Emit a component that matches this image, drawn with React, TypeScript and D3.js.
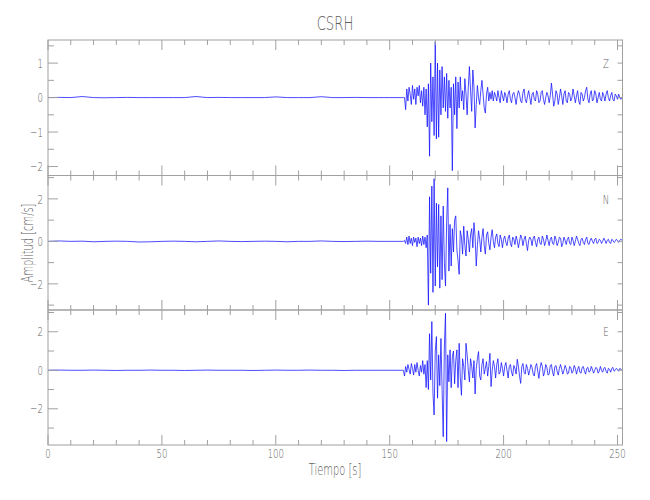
import React from "react";
import * as d3 from "d3";

const title = "CSRH";
const xLabel = "Tiempo [s]";
const yLabel = "Amplitud [cm/s]";
const components = ["Z", "N", "E"];
const xTickLabels = [0, 50, 100, 150, 200, 250];
const zTickLabels = [-2, -1, 0, 1];
const nTickLabels = [-2, 0, 2];
const eTickLabels = [-2, 0, 2];

// sampling of the arrays
const PRE_START = 0;
const PRE_DT = 5;
const MAIN_START = 155;
const MAIN_DT = 0.5;

// pre-event noise (0..150 s, every 5 s)
const zPre = [0, 0.005, 0, 0.03, 0, -0.005, 0, 0.005, 0, 0, 0, 0, 0, 0.03, 0, 0.005, 0, 0, 0, 0, 0.02, 0, 0, 0, 0.025, 0, 0, 0.005, 0, 0, 0];
const nPre = [0, 0.02, 0, 0.01, -0.02, 0, 0.01, 0, -0.03, -0.02, 0, 0.01, 0, -0.02, 0, 0.02, 0, -0.01, 0, 0.01, 0, -0.02, 0, 0, 0.02, 0, -0.01, 0, 0.01, 0, 0];
const ePre = [0, 0.01, 0, 0, 0.01, 0, -0.01, 0, 0, 0.01, 0, 0, -0.01, 0, 0.01, 0, 0, 0, -0.01, 0, 0.01, 0, 0, 0.01, 0, 0, -0.01, 0, 0, 0, 0];

// main record (155..252 s, every 0.5 s)
const zMain = [
  0, 0, 0, 0, -0.35, 0.25, -0.1, 0.3, 0.1, -0.2,
  0.35, -0.05, 0.25, -0.2, 0.3, 0.05, 0.35, -0.15, 0.2, -0.25,
  0.3, -0.5, 0.25, -0.85, 0.4, -1.7, 1.0, -0.7, 0.6, -1.1,
  1.62, -1.2, 1.0, -1.15, 0.8, -0.5, 0.9, -0.3, 0.6, -0.4,
  0.7, -0.6, 0.5, -0.3, 0.3, -2.12, 0.4, -0.5, 0.6, -0.9,
  0.45, -0.3, 0.6, -0.1, 0.2, -0.35, 0.55, 0.1, -0.5, 0.3,
  0.9, 0.2, -0.4, 0.8, 0.3, -0.88, -0.2, 0.35, 0.0, -0.2,
  0.2, 0.5, 0.1, -0.3, -0.45, 0.1, 0.3, -0.1, 0.15, -0.05,
  0.2, -0.1, 0.15, 0.05, -0.1, 0.2, 0.0, -0.15, 0.2, 0.05,
  -0.1, 0.15, 0.05, -0.15, 0.1, 0.2, -0.05, -0.15, 0.1, 0.15,
  0.0, -0.2, 0.05, 0.2, 0.1, -0.1, -0.15, 0.15, 0.25, -0.05,
  -0.15, 0.05, 0.2, 0.0, -0.2, 0.1, 0.15, -0.05, -0.1, 0.2,
  0.1, -0.15, -0.1, 0.15, 0.2, -0.05, -0.2, 0.0, 0.15, 0.05,
  -0.15, 0.05, 0.42, 0.1, -0.25, -0.1, 0.2, 0.1, -0.2, 0.0,
  0.25, 0.05, -0.2, 0.1, 0.2, -0.1, -0.15, 0.15, 0.1, -0.1,
  0.0, 0.25, 0.05, -0.15, 0.05, 0.2, -0.1, -0.2, 0.15, 0.1,
  -0.1, 0.0, 0.2, 0.3, -0.05, -0.15, 0.1, 0.2, -0.1, -0.05,
  0.2, 0.1, -0.15, 0.0, 0.15, -0.05, -0.1, 0.15, 0.05, -0.1,
  0.1, 0.2, 0.0, -0.1, 0.05, 0.15, -0.05, -0.1, 0.1, 0.05,
  -0.05, 0.1, 0.0, -0.05, 0.02,
];
const nMain = [
  0, 0, 0, 0.05, -0.1, 0.2, -0.15, 0.25, -0.1, 0.15,
  -0.2, 0.2, -0.05, 0.15, -0.25, 0.2, -0.1, 0.15, -0.2, 0.25,
  -0.15, 0.2, -0.3, 0.3, -3.0, 2.1, -1.5, 2.6, -2.4, 2.95,
  -2.1, 1.8, -1.2, 1.74, -2.2, 1.2, -1.8, 1.66, -1.0, -2.1,
  0.9, 2.52, -1.4, 0.8, -1.16, 0.6, -0.5, 1.0, 1.2, -0.4,
  -0.9, -1.55, 0.5, 0.2, -0.6, 0.72, -0.2, -0.69, 0.5, 0.1,
  -0.5, 0.3, 0.6, -0.3, 0.88, 0.2, -1.16, -0.2, 0.5, 0.1,
  -0.5, 0.2, 0.6, -0.2, -0.6, 0.3, 0.45, -0.1, -0.4, 0.2,
  0.55, 0.0, -0.3, 0.2, 0.35, -0.1, -0.25, 0.3, 0.1, -0.3,
  0.1, 0.25, -0.05, -0.2, 0.15, 0.3, -0.1, -0.25, 0.2, 0.1,
  -0.15, 0.25, 0.05, -0.3, 0.0, 0.3, 0.15, -0.2, 0.1, 0.25,
  -0.1, -0.43, 0.05, 0.2, 0.1, -0.2, 0.15, 0.25, -0.05, -0.25,
  0.1, 0.2, -0.1, -0.15, 0.25, 0.1, -0.2, 0.0, 0.3, 0.05,
  -0.2, 0.1, 0.2, -0.1, -0.15, 0.25, 0.1, -0.2, -0.05, 0.2,
  0.15, -0.25, -0.1, 0.2, 0.05, -0.15, 0.1, 0.2, -0.1, -0.15,
  0.2, 0.05, -0.2, 0.0, 0.25, 0.1, -0.1, -0.2, 0.1, 0.15,
  -0.05, -0.15, 0.1, 0.2, -0.1, -0.15, 0.05, 0.15, 0.0, -0.1,
  0.1, 0.15, -0.1, -0.05, 0.1, 0.05, -0.1, 0.0, 0.15, 0.05,
  -0.1, 0.05, 0.1, -0.05, -0.1, 0.1, 0.05, -0.05, 0.0, 0.1,
  0.05, -0.05, 0.05, 0.1, 0.05,
];
const eMain = [
  0, 0, 0, -0.3, 0.2, -0.1, 0.3, 0.05, -0.2, 0.35,
  0.1, -0.25, 0.3, -0.1, 0.4, 0.0, -0.3, 0.25, -0.1, 0.5,
  -0.2, 0.3, -0.9, 0.5, -1.0, 1.9, -0.5, 2.53, -1.2, -2.32,
  1.0, 1.75, -1.45, 0.8, -0.8, 1.65, -1.0, -3.45, 1.2, 2.96,
  -3.7, 0.8, -0.6, 1.06, -0.9, 0.7, 1.0, -0.7, 0.5, 1.06,
  -0.9, 1.4, -0.4, -1.3, 0.6, 0.2, -0.5, 1.4, 0.8, 0.0,
  -0.6, 0.6, 0.2, -0.4, 0.5, -1.23, 0.1, 0.6, 0.97, -0.3,
  -0.5, 0.3, 0.6, -0.2, 0.1, 0.45, -0.3, 0.2, 0.88, -0.85,
  0.0, 0.5, 0.2, -0.4, 0.3, 0.6, -0.2, -0.1, 0.4, 0.1,
  -0.3, 0.2, 0.4, 0.0, -0.4, 0.2, 0.3, -0.1, -0.3, 0.25,
  0.1, -0.2, 0.57, 0.2, -0.3, -0.68, 0.2, 0.35, -0.1, -0.2,
  0.3, 0.1, -0.25, 0.0, 0.3, 0.15, -0.2, -0.3, 0.2, 0.35,
  -0.05, -0.42, 0.1, 0.4, 0.2, -0.3, -0.1, 0.3, 0.15, -0.25,
  -0.2, 0.25, 0.3, -0.1, -0.3, 0.2, 0.25, -0.05, -0.25, 0.1,
  0.3, 0.05, -0.2, 0.0, 0.25, 0.1, -0.2, -0.15, 0.2, 0.15,
  -0.15, -0.05, 0.25, 0.1, -0.2, 0.05, 0.2, -0.1, -0.15, 0.15,
  0.2, -0.05, -0.2, 0.1, 0.15, -0.1, -0.05, 0.2, 0.05, -0.15,
  0.0, 0.15, 0.1, -0.15, -0.05, 0.2, 0.0, -0.1, 0.1, 0.15,
  -0.05, -0.15, 0.1, 0.05, -0.1, 0.1, 0.15, -0.05, 0.0, 0.1,
  0.05, -0.05, 0.1, 0.05, 0.0,
];

const FONT = "'DejaVu Sans', sans-serif";
const AXIS = "#a0a0a0";
const TEXT = "#5e5e5e";
const TRACE = "#1010ff";
const SQUEEZE = 0.66;

function buildSeries(pre: number[], main: number[]): [number, number][] {
  const a: [number, number][] = pre.map((v, i) => [PRE_START + i * PRE_DT, v]);
  const b: [number, number][] = main.map((v, i) => [MAIN_START + i * MAIN_DT, v]);
  return a.concat(b);
}

const panels = [
  { label: components[0], domain: [-2.26, 1.67], labels: zTickLabels, minor: 0.5, series: buildSeries(zPre, zMain) },
  { label: components[1], domain: [-3.23, 3.1], labels: nTickLabels, minor: 1, series: buildSeries(nPre, nMain) },
  { label: components[2], domain: [-3.88, 3.13], labels: eTickLabels, minor: 1, series: buildSeries(ePre, eMain) },
];

function T(props: { x: number; y: number; size: number; anchor?: string; rotate?: number; dy?: string; children: React.ReactNode }) {
  const { x, y, size, anchor = "middle", rotate = 0, dy, children } = props;
  return (
    <text
      transform={`translate(${x},${y}) rotate(${rotate}) scale(${SQUEEZE},1)`}
      textAnchor={anchor}
      dy={dy}
      fontSize={size}
      fontWeight={200}
      fill={TEXT}
    >
      {children}
    </text>
  );
}

export default function App() {
  const left = 48;
  const right = 622.5;
  const tops = [40, 175.5, 310];
  const ph = [135.5, 134.5, 135];
  const x = d3.scaleLinear().domain([0, 252.2]).range([left, right]);
  const xMinor = d3.range(0, 252.2, 10);

  return (
    <svg width={650} height={500} style={{ position: "absolute", left: 0, top: 0, background: "#fff" }} fontFamily={FONT}>
      <rect x={0} y={0} width={650} height={500} fill="#fff" />
      <defs>
        {panels.map((p, i) => (
          <clipPath id={`clip${i}`} key={i}>
            <rect x={left} y={tops[i]} width={right - left} height={ph[i]} />
          </clipPath>
        ))}
      </defs>
      {panels.map((p, i) => {
        const top = tops[i];
        const bottom = top + ph[i];
        const y = d3.scaleLinear().domain(p.domain).range([bottom, top]);
        const line = d3
          .line<[number, number]>()
          .x((d) => x(d[0]))
          .y((d) => y(d[1]));
        const yMinor = d3.range(Math.ceil(p.domain[0] / p.minor) * p.minor, p.domain[1], p.minor);
        const isMajorY = (v: number) => p.labels.includes(Math.round(v * 1000) / 1000) || (p.minor === 0.5 && Math.abs(v - Math.round(v)) < 1e-6);
        return (
          <g key={i}>
            <path d={line(p.series) || ""} fill="none" stroke={TRACE} strokeWidth={0.75} clipPath={`url(#clip${i})`} />
            <rect x={left} y={top} width={right - left} height={ph[i]} fill="none" stroke={AXIS} strokeWidth={1} />
            {xMinor.map((t) => {
              const major = t % 50 === 0;
              const len = major ? 10 : 5;
              return (
                <g key={t}>
                  <line x1={x(t)} x2={x(t)} y1={top} y2={top + len} stroke={AXIS} />
                  <line x1={x(t)} x2={x(t)} y1={bottom} y2={bottom - len} stroke={AXIS} />
                </g>
              );
            })}
            {yMinor.map((v) => {
              const major = isMajorY(v);
              return (
                <g key={v}>
                  <line x1={left} x2={left + (major ? 10 : 6)} y1={y(v)} y2={y(v)} stroke={AXIS} />
                  <line x1={right} x2={right - 5} y1={y(v)} y2={y(v)} stroke={AXIS} />
                </g>
              );
            })}
            {p.labels.map((v) => (
              <T key={v} x={left - 5} y={y(v)} dy="0.36em" anchor="end" size={13}>
                {v < 0 ? `\u2212${Math.abs(v)}` : `${v}`}
              </T>
            ))}
            <T x={606} y={y(p.labels[p.labels.length - 1] === 1 ? 1 : 2)} dy="0.36em" size={13}>
              {p.label}
            </T>
          </g>
        );
      })}
      {xTickLabels.map((t) => (
        <T key={t} x={x(t)} y={453} dy="0.36em" size={13}>
          {t}
        </T>
      ))}
      <T x={335} y={30} size={20}>
        {title}
      </T>
      <T x={335} y={475} size={15}>
        {xLabel}
      </T>
      <T x={33} y={243} rotate={-90} size={15}>
        {yLabel}
      </T>
    </svg>
  );
}
